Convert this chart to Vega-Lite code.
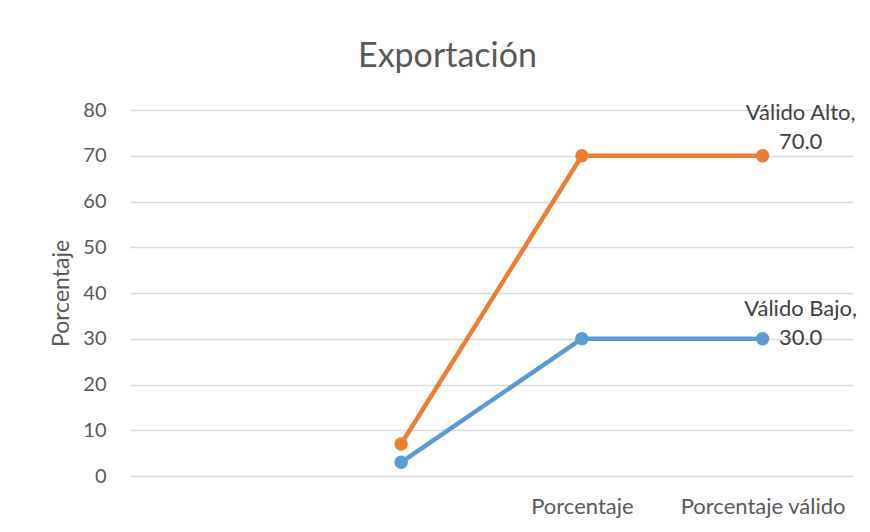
{
  "$schema": "https://vega.github.io/schema/vega-lite/v6.json",
  "autosize": {"type": "none"},
  "width": 723,
  "height": 366,
  "padding": {"left": 130, "top": 110, "right": 17, "bottom": 56},
  "background": "white",
  "title": {
    "text": "Exportación",
    "font": "Lato",
    "fontSize": 34,
    "fontWeight": "normal",
    "color": "#595959",
    "anchor": "middle",
    "offset": 26,
    "frame": "group",
    "dx": -44
  },
  "config": {
    "view": {"stroke": null},
    "font": "Lato"
  },
  "data": {
    "values": [
      {"categoria": "Frecuencia", "serie": "Válido Alto", "valor": 7},
      {"categoria": "Porcentaje", "serie": "Válido Alto", "valor": 70.0},
      {"categoria": "Porcentaje válido", "serie": "Válido Alto", "valor": 70.0},
      {"categoria": "Frecuencia", "serie": "Válido Bajo", "valor": 3},
      {"categoria": "Porcentaje", "serie": "Válido Bajo", "valor": 30.0},
      {"categoria": "Porcentaje válido", "serie": "Válido Bajo", "valor": 30.0}
    ]
  },
  "encoding": {
    "x": {
      "field": "categoria",
      "type": "nominal",
      "sort": null,
      "scale": {"type": "point", "padding": 0.5, "domain": ["", "Frecuencia", "Porcentaje", "Porcentaje válido"]},
      "axis": {
        "title": null,
        "labelAngle": 0,
        "labelExpr": "indexof(datum.label, 'Porcentaje') === 0 ? datum.label : ''",
        "labelFont": "Lato",
        "labelFontSize": 22,
        "labelColor": "#595959",
        "labelPadding": 20,
        "domain": false,
        "ticks": false,
        "grid": false
      }
    },
    "y": {
      "field": "valor",
      "type": "quantitative",
      "scale": {"domain": [0, 80], "nice": false},
      "axis": {
        "title": "Porcentaje",
        "titleFont": "Lato",
        "titleFontSize": 23,
        "titleFontWeight": "normal",
        "titleColor": "#595959",
        "titlePadding": 9,
        "values": [0, 10, 20, 30, 40, 50, 60, 70, 80],
        "labelFont": "Lato",
        "labelFontSize": 20,
        "labelColor": "#595959",
        "labelPadding": 24,
        "domain": false,
        "ticks": false,
        "grid": true,
        "gridColor": "#d9d9d9",
        "gridWidth": 1.5
      }
    },
    "color": {
      "field": "serie",
      "type": "nominal",
      "scale": {"domain": ["Válido Bajo", "Válido Alto"], "range": ["#5B9BD5", "#ED7D31"]},
      "legend": null
    }
  },
  "layer": [
    {
      "mark": {"type": "line", "strokeWidth": 4.5, "strokeCap": "round"},
      "encoding": {"order": {"field": "categoria", "sort": "ascending"}}
    },
    {
      "mark": {"type": "point", "filled": true, "opacity": 1, "size": 180}
    },
    {
      "transform": [
        {"filter": "datum.categoria === 'Porcentaje válido' && datum.serie === 'Válido Alto'"},
        {"calculate": "datum.serie + ',\\n' + format(datum.valor, '.1f')", "as": "etiqueta"}
      ],
      "mark": {"type": "text", "lineBreak": "\n", "lineHeight": 29, "fontSize": 22, "font": "Lato", "align": "center", "baseline": "middle", "dx": 38, "dy": -43, "color": "#404040"},
      "encoding": {"text": {"field": "etiqueta"}, "color": {"value": "#404040"}}
    },
    {
      "transform": [
        {"filter": "datum.categoria === 'Porcentaje válido' && datum.serie === 'Válido Bajo'"},
        {"calculate": "datum.serie + ',\\n' + format(datum.valor, '.1f')", "as": "etiqueta"}
      ],
      "mark": {"type": "text", "lineBreak": "\n", "lineHeight": 29, "fontSize": 22, "font": "Lato", "align": "center", "baseline": "middle", "dx": 38, "dy": -30, "color": "#404040"},
      "encoding": {"text": {"field": "etiqueta"}, "color": {"value": "#404040"}}
    }
  ]
}
